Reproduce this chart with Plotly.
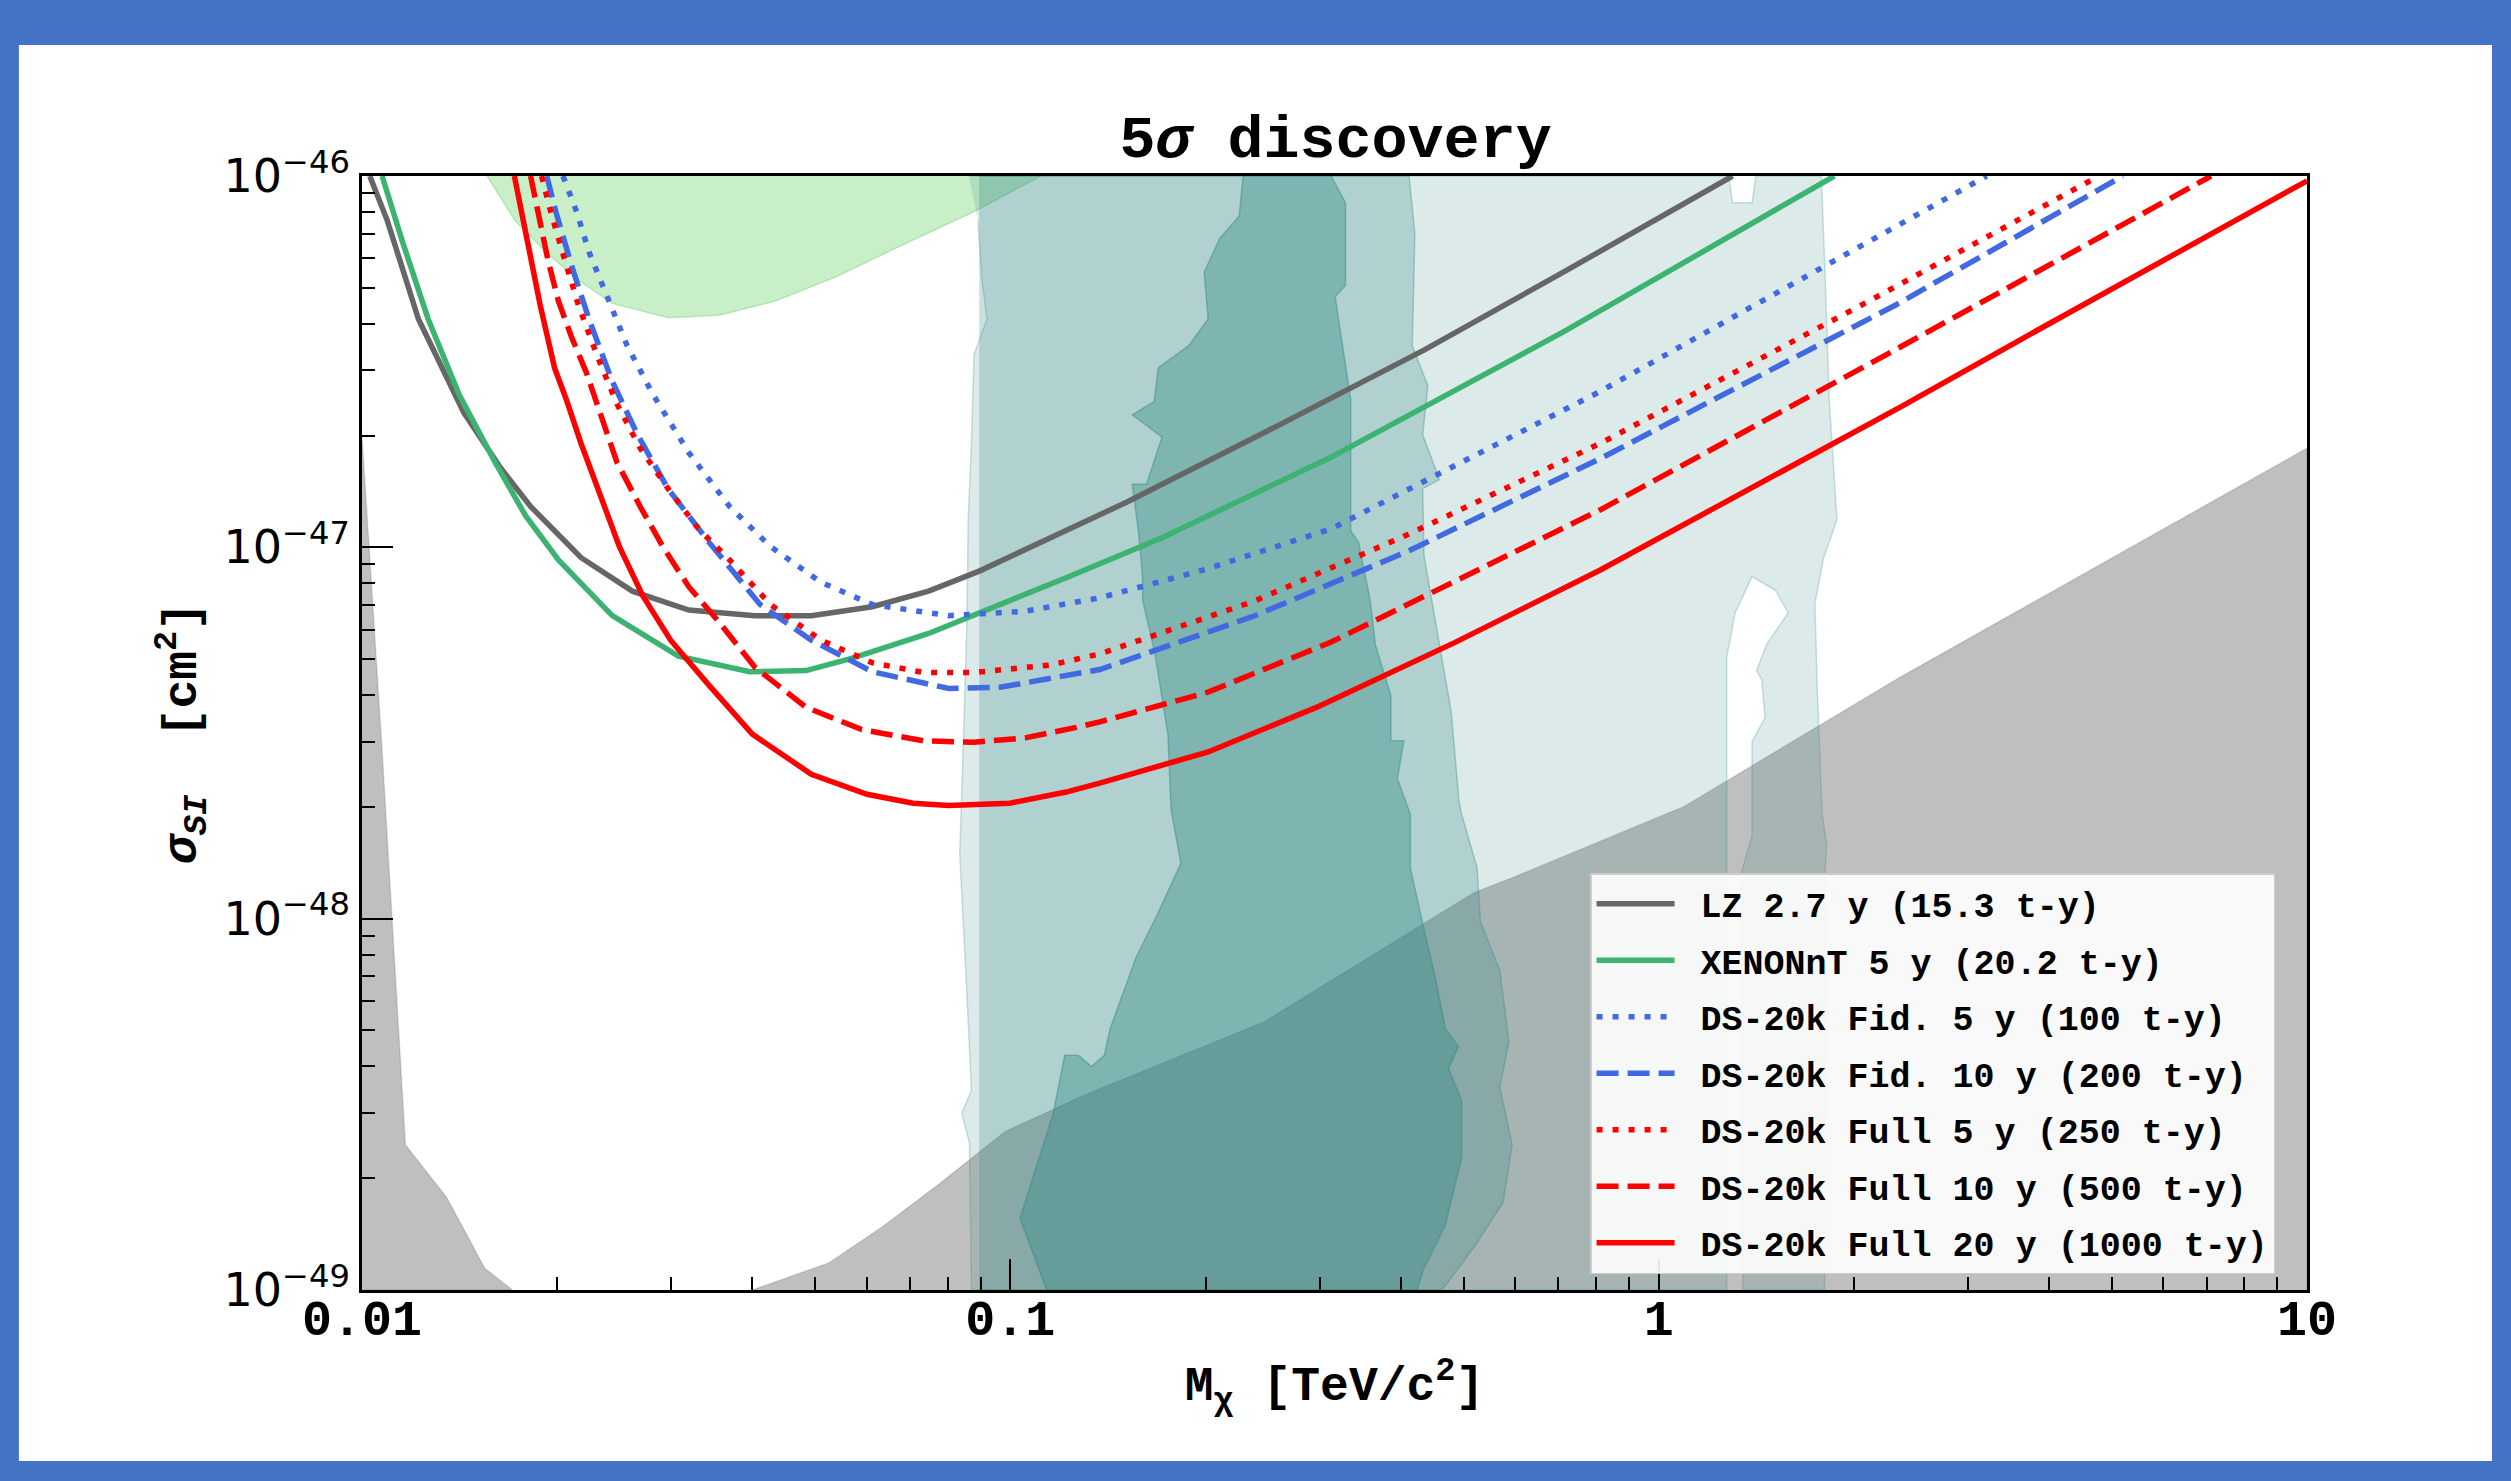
import numpy as np
import plotly.graph_objects as go

# ---------------- data (log10 of M [TeV/c^2] and log10 of sigma [cm^2]) ----------------
lz_logm = [-1.988, -1.961, -1.913, -1.843, -1.788, -1.740, -1.662, -1.583, -1.496, -1.394, -1.307,
           -1.213, -1.126, -1.048, -0.938, -0.820, -0.588, -0.362, -0.147, 0.114]
lz_logs = [-46.0, -46.120, -46.385, -46.637, -46.782, -46.890, -47.028, -47.118, -47.169, -47.184, -47.184,
           -47.160, -47.118, -47.064, -46.974, -46.878, -46.673, -46.469, -46.259, -46.0]

xe_logm = [-1.969, -1.937, -1.898, -1.850, -1.795, -1.748, -1.697, -1.614, -1.512, -1.402, -1.315,
           -1.245, -1.126, -1.032, -0.914, -0.766, -0.505, -0.147, 0.271]
xe_logs = [-46.0, -46.180, -46.385, -46.589, -46.770, -46.914, -47.034, -47.184, -47.293, -47.335, -47.332,
           -47.299, -47.232, -47.166, -47.082, -46.974, -46.757, -46.420, -46.0]

fid5_logm = [-1.690, -1.669, -1.650, -1.622, -1.591, -1.551, -1.496, -1.433, -1.370, -1.292, -1.213,
             -1.095, -0.977, -0.862, -0.700, -0.505, -0.300, -0.090, 0.162, 0.506]
fid5_logs = [-46.0, -46.096, -46.204, -46.325, -46.457, -46.589, -46.745, -46.890, -46.998, -47.094, -47.154,
             -47.184, -47.172, -47.136, -47.060, -46.950, -46.767, -46.580, -46.334, -46.0]

fid10_logm = [-1.715, -1.701, -1.677, -1.650, -1.614, -1.575, -1.528, -1.465, -1.386, -1.307, -1.213,
              -1.095, -1.016, -0.914, -0.862, -0.624, -0.386, -0.090, 0.367, 0.716]
fid10_logs = [-46.0, -46.096, -46.240, -46.385, -46.553, -46.697, -46.842, -46.986, -47.154, -47.250, -47.335,
              -47.380, -47.377, -47.347, -47.329, -47.185, -47.010, -46.761, -46.346, -46.0]

full5_logm = [-1.723, -1.709, -1.689, -1.666, -1.638, -1.607, -1.571, -1.528, -1.481, -1.433, -1.370,
              -1.292, -1.213, -1.134, -1.056, -0.938, -0.862, -0.624, -0.386, -0.090, 0.321, 0.679]
full5_logs = [-46.0, -46.096, -46.216, -46.349, -46.481, -46.613, -46.733, -46.842, -46.950, -47.034, -47.154,
              -47.250, -47.311, -47.337, -47.337, -47.317, -47.287, -47.145, -46.965, -46.720, -46.340, -46.0]

full10_logm = [-1.740, -1.728, -1.713, -1.697, -1.677, -1.654, -1.630, -1.607, -1.571, -1.536, -1.496,
               -1.449, -1.394, -1.315, -1.229, -1.134, -1.056, -0.977, -0.898, -0.862, -0.695, -0.505,
               -0.266, -0.090, 0.367, 0.852]
full10_logs = [-46.0, -46.096, -46.228, -46.337, -46.433, -46.529, -46.649, -46.770, -46.890, -46.998, -47.106,
               -47.202, -47.323, -47.431, -47.491, -47.521, -47.525, -47.513, -47.485, -47.470, -47.390, -47.255,
               -47.050, -46.899, -46.466, -46.0]

full20_logm = [-1.765, -1.748, -1.725, -1.703, -1.685, -1.662, -1.630, -1.603, -1.567, -1.524, -1.465,
               -1.398, -1.307, -1.221, -1.150, -1.095, -1.001, -0.914, -0.862, -0.695, -0.528, -0.314,
               -0.090, 0.372, 0.566, 0.805, 1.0]
full20_logs = [-46.0, -46.156, -46.349, -46.517, -46.601, -46.721, -46.866, -46.998, -47.130, -47.250, -47.371,
               -47.503, -47.611, -47.665, -47.689, -47.695, -47.689, -47.659, -47.635, -47.551, -47.431, -47.256,
               -47.061, -46.623, -46.433, -46.204, -46.013]

# shaded regions (polygons)
teal1_logm = [-1.064, 0.108, 0.114, 0.144, 0.150, 0.251, 0.257, 0.263, 0.275, 0.254, 0.241, 0.245, 0.252, 0.259,
              0.257, 0.256, 0.256, 0.130, 0.128, 0.128, 0.144, 0.144, 0.164, 0.159, 0.151, 0.167, 0.200, 0.180,
              0.144, 0.118, 0.105, 0.105, 0.105, -1.060, -1.063, -1.075, -1.060, -1.067, -1.078, -1.072, -1.067,
              -1.065, -1.060, -1.056, -1.036, -1.044, -1.050]
teal1_logs = [-46.0, -46.0, -46.072, -46.072, -46.0, -46.0, -46.277, -46.601, -46.926, -47.031, -47.152, -47.4,
              -47.717, -47.801, -47.873, -48.5, -49.0, -49.0, -48.2, -47.873, -47.777, -47.524, -47.458, -47.356,
              -47.332, -47.260, -47.176, -47.116, -47.079, -47.176, -47.296, -47.873, -49.0, -49.0, -48.604,
              -48.524, -48.463, -48.201, -47.827, -47.5, -47.2, -46.926, -46.721, -46.481, -46.385, -46.277, -46.12]

teal2_logm = [-1.048, -0.385, -0.376, -0.380, -0.356, -0.364, -0.338, -0.364, -0.362, -0.340, -0.320, -0.308,
              -0.304, -0.280, -0.275, -0.245, -0.231, -0.245, -0.226, -0.240, -0.285, -0.334, -1.048]
teal2_logs = [-46.0, -46.0, -46.156, -46.457, -46.565, -46.697, -46.818, -46.842, -47.022, -47.240, -47.443,
              -47.683, -47.719, -47.863, -48.008, -48.140, -48.332, -48.453, -48.609, -48.765, -48.885, -49.0, -49.0]

teal3_logm = [-0.641, -0.647, -0.677, -0.701, -0.695, -0.725, -0.772, -0.778, -0.812, -0.766, -0.790, -0.812,
              -0.802, -0.796, -0.796, -0.777, -0.757, -0.752, -0.737, -0.772, -0.806, -0.846, -0.855, -0.875,
              -0.895, -0.916, -0.934, -0.985, -0.944, -0.373, -0.363, -0.329, -0.304, -0.304, -0.324, -0.309,
              -0.329, -0.344, -0.363, -0.383, -0.383, -0.403, -0.393, -0.413, -0.413, -0.437, -0.445, -0.463,
              -0.475, -0.475, -0.499, -0.483, -0.483, -0.505]
teal3_logs = [-46.0, -46.108, -46.168, -46.259, -46.385, -46.457, -46.517, -46.607, -46.643, -46.703, -46.830,
              -46.830, -46.962, -47.082, -47.142, -47.286, -47.503, -47.707, -47.851, -47.984, -48.104, -48.296,
              -48.368, -48.398, -48.368, -48.368, -48.525, -48.807, -49.0, -49.0, -48.945, -48.825, -48.645,
              -48.489, -48.404, -48.344, -48.296, -48.164, -48.020, -47.863, -47.719, -47.623, -47.521, -47.521,
              -47.400, -47.262, -47.142, -46.986, -46.956, -46.601, -46.325, -46.295, -46.072, -46.0]

green_logm = [-1.807, -1.764, -1.717, -1.669, -1.614, -1.528, -1.449, -1.363, -1.268, -1.174, -1.056, -0.953]
green_logs = [-46.0, -46.120, -46.204, -46.277, -46.343, -46.382, -46.375, -46.337, -46.271, -46.192, -46.096, -46.0]

fogL_logm = [-2.0, -1.969, -1.933, -1.870, -1.831, -1.811, -1.768, -2.0]
fogL_logs = [-46.70, -47.546, -48.609, -48.749, -48.875, -48.941, -49.0, -49.0]

fogR_logm = [-1.398, -1.280, -1.197, -1.111, -1.008, -0.883, -0.609, -0.285, -0.219, 0.040, 0.372, 1.0, 1.0]
fogR_logs = [-49.0, -48.927, -48.829, -48.716, -48.573, -48.473, -48.278, -47.930, -47.885, -47.697, -47.350,
             -46.733, -49.0]

x_tickvals = [0.01, 0.1, 1, 10]
x_ticktext = ["0.01", "0.1", "1", "10"]
y_tickvals = [1e-49, 1e-48, 1e-47, 1e-46]
y_ticktext = ["10<sup>\u221249</sup>", "10<sup>\u221248</sup>", "10<sup>\u221247</sup>", "10<sup>\u221246</sup>"]

series_names = ["LZ 2.7 y (15.3 t-y)", "XENONnT 5 y (20.2 t-y)", "DS-20k Fid. 5 y (100 t-y)",
                "DS-20k Fid. 10 y (200 t-y)", "DS-20k Full 5 y (250 t-y)", "DS-20k Full 10 y (500 t-y)",
                "DS-20k Full 20 y (1000 t-y)"]

series = [
    (series_names[0], lz_logm, lz_logs, "#666666", "solid"),
    (series_names[1], xe_logm, xe_logs, "#3cb371", "solid"),
    (series_names[2], fid5_logm, fid5_logs, "#4169e1", "6px,10px"),
    (series_names[3], fid10_logm, fid10_logs, "#4169e1", "22px,9px"),
    (series_names[4], full5_logm, full5_logs, "#ff0000", "6px,10px"),
    (series_names[5], full10_logm, full10_logs, "#ff0000", "22px,9px"),
    (series_names[6], full20_logm, full20_logs, "#ff0000", "solid"),
]

MONO = "Liberation Mono, Courier New, monospace"

fig = go.Figure()


def region(logm, logs, fill, edge):
    fig.add_trace(go.Scatter(x=10 ** np.array(logm), y=10 ** np.array(logs), mode="lines",
                             fill="toself", fillcolor=fill, line=dict(color=edge, width=1.5),
                             hoverinfo="skip", showlegend=False))


# grey regions, green region, then translucent teal contours on top
region(fogL_logm, fogL_logs, "rgba(0,0,0,0.25)", "rgba(0,0,0,0.12)")
region(fogR_logm, fogR_logs, "rgba(0,0,0,0.25)", "rgba(0,0,0,0.12)")
region(green_logm, green_logs, "rgba(100,210,100,0.35)", "rgba(90,200,90,0.35)")
region(teal1_logm, teal1_logs, "rgba(49,137,131,0.17)", "rgba(49,137,131,0.25)")
region(teal2_logm, teal2_logs, "rgba(49,137,131,0.26)", "rgba(49,137,131,0.35)")
region(teal3_logm, teal3_logs, "rgba(49,137,131,0.39)", "rgba(49,137,131,0.45)")

for i, (name, lm, ls, col, dash) in enumerate(series):
    fig.add_trace(go.Scatter(x=10 ** np.array(lm), y=10 ** np.array(ls), mode="lines",
                             name="\u00a0" + name, legendgroup=f"g{i}",
                             line=dict(color=col, width=5.5, dash=dash)))

axis_common = dict(type="log", showgrid=False, zeroline=False, showline=True, linecolor="black",
                   linewidth=2.5, mirror=True, ticks="inside", ticklen=31, tickwidth=2, tickcolor="black",
                   minor=dict(ticks="inside", ticklen=13, tickwidth=1.8, tickcolor="black", dtick="D1",
                              showgrid=False))

fig.update_xaxes(range=[-2, 1], tickmode="array", tickvals=x_tickvals, ticktext=x_ticktext,
                 ticklabelstandoff=-18,
                 tickfont=dict(family=MONO, size=50, color="black", weight="bold"),
                 title=dict(text="M<sub>\u03c7</sub> [TeV/c<sup>2</sup>]", standoff=18,
                            font=dict(family=MONO, size=48, color="black", weight="bold")),
                 **axis_common)
fig.update_yaxes(range=[-49, -46], tickmode="array", tickvals=y_tickvals, ticktext=y_ticktext,
                 tickfont=dict(family="DejaVu Sans", size=46, color="black"),
                 title=dict(text="<i>\u03c3</i><sub><i>SI</i></sub>  [cm<sup>2</sup>]", standoff=12,
                            font=dict(family=MONO, size=48, color="black", weight="bold")),
                 **axis_common)

fig.update_layout(
    width=2511, height=1481,
    margin=dict(l=362, r=204, t=176, b=191),
    paper_bgcolor="#4472c4", plot_bgcolor="white",
    title=dict(text="5<i>\u03c3</i> discovery", x=0.5319, xanchor="center", y=1 - 136 / 1481,
               yanchor="middle", font=dict(family=MONO, size=60, color="black", weight="bold")),
    legend=dict(x=0.6314, y=0.3743, xanchor="left", yanchor="top", bgcolor="rgba(255,255,255,0.9)",
                bordercolor="#cccccc", borderwidth=1.5, tracegroupgap=8, itemwidth=78,
                font=dict(family=MONO, size=35, color="black", weight="bold")),
    shapes=[dict(type="rect", xref="paper", yref="paper", x0=-0.1764, x1=1.0951, y0=-0.1535, y1=1.1176,
                 fillcolor="white", line=dict(width=0), layer="below")],
    showlegend=True,
)

fig.write_html("out.html", config={"displayModeBar": False},
               post_script="document.body.style.margin='0px';")
